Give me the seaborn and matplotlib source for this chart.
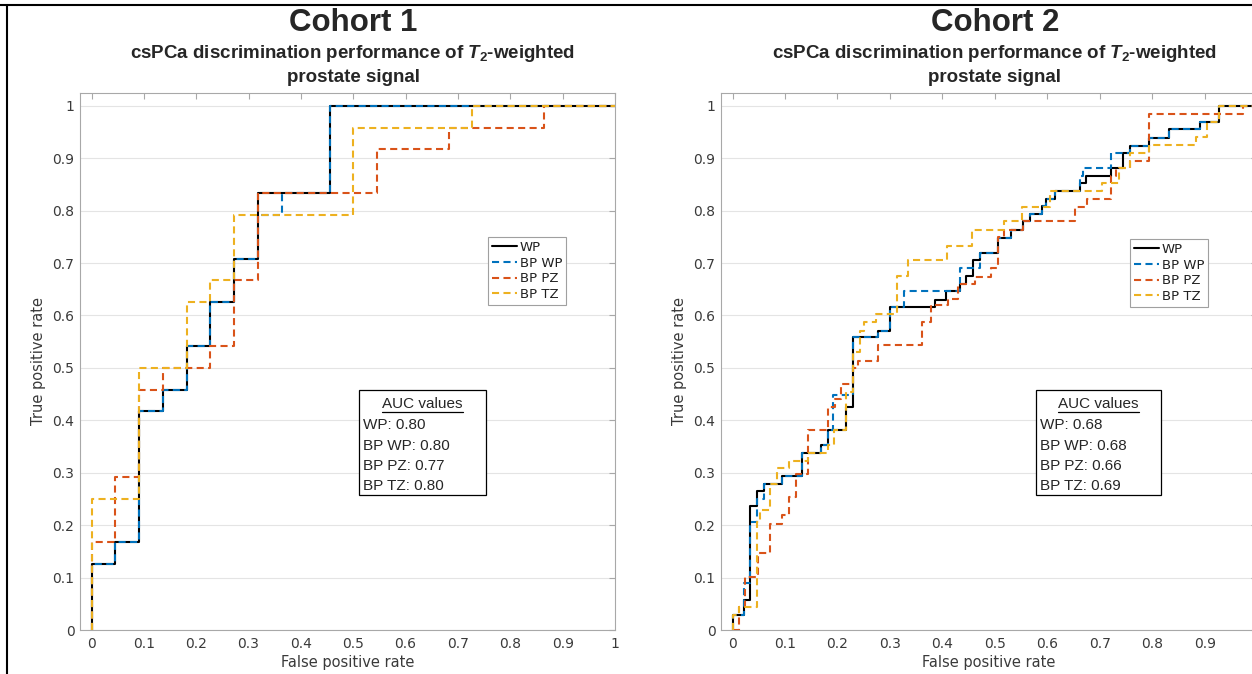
import matplotlib
matplotlib.use("Agg")
import matplotlib.pyplot as plt
from matplotlib.lines import Line2D
from matplotlib.patches import Rectangle
import seaborn as sns

# ---------------- data ----------------
series_names = ["WP", "BP WP", "BP PZ", "BP TZ"]
series_colors = ["#000000", "#0072BD", "#D95319", "#EDB120"]
cohort_titles = ["Cohort 1", "Cohort 2"]
subtitle_line1 = r"csPCa discrimination performance of $T_2$-weighted"
subtitle_line2 = "prostate signal"
auc_header = "AUC values"
auc_cohort1 = ["0.80", "0.80", "0.77", "0.80"]
auc_cohort2 = ["0.68", "0.68", "0.66", "0.69"]
tick_values = [0.0, 0.1, 0.2, 0.3, 0.4, 0.5, 0.6, 0.7, 0.8, 0.9, 1.0]
tick_labels = ["0", "0.1", "0.2", "0.3", "0.4", "0.5", "0.6", "0.7", "0.8", "0.9", "1"]
x_label = "False positive rate"
y_label = "True positive rate"

# Cohort 1 ROC curves (step vertices: FPR where the curve rises, TPR reached)
c1_wp_fpr = [0.0, 0.0, 0.045, 0.091, 0.136, 0.182, 0.227, 0.273, 0.318, 0.455, 1.0]
c1_wp_tpr = [0.0, 0.125, 0.167, 0.417, 0.458, 0.542, 0.625, 0.708, 0.833, 1.0, 1.0]
c1_bpwp_fpr = [0.0, 0.0, 0.045, 0.091, 0.136, 0.182, 0.227, 0.273, 0.318, 0.364, 0.455, 1.0]
c1_bpwp_tpr = [0.0, 0.125, 0.167, 0.417, 0.458, 0.542, 0.625, 0.708, 0.792, 0.833, 1.0, 1.0]
c1_bppz_fpr = [0.0, 0.0, 0.045, 0.091, 0.136, 0.227, 0.273, 0.318, 0.545, 0.682, 0.864, 1.0]
c1_bppz_tpr = [0.0, 0.167, 0.292, 0.458, 0.500, 0.542, 0.667, 0.833, 0.917, 0.958, 1.0, 1.0]
c1_bptz_fpr = [0.0, 0.0, 0.091, 0.182, 0.227, 0.273, 0.500, 0.727, 1.0]
c1_bptz_tpr = [0.0, 0.250, 0.500, 0.625, 0.667, 0.792, 0.958, 1.0, 1.0]

# Cohort 2 ROC curves
c2_wp_fpr = [0.0, 0.0, 0.022, 0.034, 0.047, 0.059, 0.095, 0.132, 0.169, 0.181,
             0.216, 0.229, 0.277, 0.300, 0.385, 0.407, 0.433, 0.445, 0.458, 0.471,
             0.506, 0.531, 0.553, 0.566, 0.589, 0.598, 0.614, 0.662, 0.674, 0.722,
             0.744, 0.757, 0.794, 0.832, 0.891, 0.927, 1.0]
c2_wp_tpr = [0.0, 0.029, 0.058, 0.236, 0.265, 0.279, 0.294, 0.338, 0.352, 0.382,
             0.425, 0.559, 0.571, 0.617, 0.630, 0.646, 0.660, 0.676, 0.705, 0.719,
             0.748, 0.763, 0.781, 0.794, 0.808, 0.822, 0.837, 0.852, 0.867, 0.882,
             0.910, 0.924, 0.939, 0.955, 0.970, 1.0, 1.0]
c2_bpwp_fpr = [0.0, 0.0, 0.022, 0.034, 0.047, 0.059, 0.095, 0.132, 0.169, 0.181,
               0.191, 0.229, 0.277, 0.300, 0.326, 0.433, 0.471, 0.506, 0.531, 0.553,
               0.566, 0.589, 0.598, 0.614, 0.662, 0.668, 0.722, 0.757, 0.794, 0.832,
               0.891, 0.927, 1.0]
c2_bpwp_tpr = [0.0, 0.029, 0.089, 0.206, 0.250, 0.279, 0.294, 0.338, 0.352, 0.382,
               0.448, 0.559, 0.571, 0.617, 0.646, 0.690, 0.719, 0.748, 0.763, 0.781,
               0.794, 0.808, 0.822, 0.837, 0.867, 0.882, 0.910, 0.924, 0.939, 0.955,
               0.970, 1.0, 1.0]
c2_bppz_fpr = [0.0, 0.013, 0.023, 0.048, 0.071, 0.095, 0.108, 0.121, 0.143, 0.181,
               0.196, 0.207, 0.229, 0.240, 0.277, 0.361, 0.378, 0.410, 0.430, 0.462,
               0.493, 0.506, 0.518, 0.553, 0.652, 0.676, 0.722, 0.730, 0.757, 0.794,
               0.972, 1.0]
c2_bppz_tpr = [0.0, 0.044, 0.101, 0.146, 0.203, 0.219, 0.254, 0.298, 0.382, 0.425,
               0.440, 0.470, 0.500, 0.514, 0.543, 0.587, 0.620, 0.632, 0.660, 0.674,
               0.690, 0.750, 0.763, 0.780, 0.806, 0.822, 0.867, 0.882, 0.895, 0.984,
               1.0, 1.0]
c2_bptz_fpr = [0.0, 0.0, 0.013, 0.047, 0.052, 0.071, 0.084, 0.107, 0.144, 0.181,
               0.193, 0.216, 0.229, 0.242, 0.250, 0.273, 0.314, 0.334, 0.408, 0.457,
               0.518, 0.551, 0.605, 0.705, 0.736, 0.757, 0.794, 0.884, 0.904, 0.927,
               1.0]
c2_bptz_tpr = [0.0, 0.029, 0.044, 0.206, 0.228, 0.279, 0.309, 0.322, 0.338, 0.352,
               0.381, 0.454, 0.530, 0.571, 0.587, 0.603, 0.676, 0.705, 0.733, 0.763,
               0.780, 0.806, 0.837, 0.852, 0.882, 0.910, 0.925, 0.940, 0.970, 1.0,
               1.0]

# ---------------- style ----------------
sns.set_theme(style="white")
plt.rcParams["font.family"] = ["DejaVu Sans"]
plt.rcParams["mathtext.fontset"] = "custom"
plt.rcParams["mathtext.it"] = "Liberation Sans:italic:bold"
plt.rcParams["mathtext.rm"] = "Liberation Sans:bold"
plt.rcParams["mathtext.bf"] = "Liberation Sans:bold"

W, H = 1252, 674
fig = plt.figure(figsize=(W / 100, H / 100), dpi=100)
fig.patch.set_facecolor("white")

def fx(px):
    return px / W

def fy(py):
    return 1 - py / H

spine_color = "#a8a8a8"
label_color = "#3a3a3a"

ax_left = fig.add_axes([fx(80), fy(630), fx(615) - fx(80), fy(92.7) - fy(630)])
ax_right = fig.add_axes([fx(721), fy(630), fx(1257.3) - fx(721), fy(92.7) - fy(630)])

cohorts = [
    (ax_left, [(c1_wp_fpr, c1_wp_tpr), (c1_bpwp_fpr, c1_bpwp_tpr),
               (c1_bppz_fpr, c1_bppz_tpr), (c1_bptz_fpr, c1_bptz_tpr)], auc_cohort1),
    (ax_right, [(c2_wp_fpr, c2_wp_tpr), (c2_bpwp_fpr, c2_bpwp_tpr),
                (c2_bppz_fpr, c2_bppz_tpr), (c2_bptz_fpr, c2_bptz_tpr)], auc_cohort2),
]

legend_anchor = [(488, 237), (1130, 239)]
auc_box = [(359, 390, 486, 495), (1036, 390, 1161, 495)]
title_cx = [353, 995]
# the right panel is cropped at the image edge, so its "1" label falls outside
n_xlabels = [len(tick_labels), len(tick_labels) - 1]

fig.canvas.draw()
renderer = fig.canvas.get_renderer()

for i, (ax, curves, aucs) in enumerate(cohorts):
    handles = []
    for j, (fpr, tpr) in enumerate(curves):
        n0 = len(ax.lines)
        sns.lineplot(x=fpr, y=tpr, ax=ax, estimator=None, sort=False,
                     color=series_colors[j], linewidth=1.5,
                     drawstyle="steps-post", legend=False)
        line = ax.lines[n0]
        if j > 0:
            line.set_dashes([3.4, 2.1])
        handles.append(line)

    ax.set_xlim(-0.022, 1.0)
    ax.set_ylim(0.0, 1.025)
    ax.set_xticks(tick_values[:n_xlabels[i]])
    ax.set_xticklabels(tick_labels[:n_xlabels[i]])
    ax.set_yticks(tick_values)
    ax.set_yticklabels(tick_labels)
    ax.tick_params(direction="in", length=4, width=0.8, color=spine_color,
                   labelcolor=label_color, labelsize=10, top=True, right=True,
                   labeltop=False, labelright=False, pad=5)
    ax.tick_params(axis="y", pad=4)
    ax.grid(axis="y", color="#e4e4e4", linewidth=0.8)
    ax.grid(axis="x", visible=False)
    ax.set_axisbelow(True)
    for s in ax.spines.values():
        s.set_color(spine_color)
        s.set_linewidth(0.8)
        s.set_visible(True)
    ax.set_xlabel(x_label, fontsize=10.5, color=label_color, labelpad=3)
    ax.set_ylabel(y_label, fontsize=10.5, color=label_color, labelpad=4.5)

    lx, ly = legend_anchor[i]
    leg = ax.legend(handles, series_names, loc="upper left",
                    bbox_to_anchor=(fx(lx), fy(ly)), bbox_transform=fig.transFigure,
                    fontsize=9.5, frameon=True, fancybox=False, edgecolor="#a0a0a0",
                    framealpha=1, borderpad=0.3, labelspacing=0.2, handlelength=1.9,
                    handletextpad=0.2, borderaxespad=0)
    leg.get_frame().set_linewidth(0.8)
    for t in leg.get_texts():
        t.set_color("#202020")

    # titles
    cx = title_cx[i]
    fig.text(fx(cx), fy(23), cohort_titles[i], ha="center", va="center",
             fontsize=22.5, fontweight="bold", family="Liberation Sans")
    fig.text(fx(cx), fy(53), subtitle_line1, ha="center", va="center",
             fontsize=13.5, fontweight="bold", family="Liberation Sans")
    fig.text(fx(cx), fy(77), subtitle_line2, ha="center", va="center",
             fontsize=13.5, fontweight="bold", family="Liberation Sans")

    # AUC box
    x0, y0, x1, y1 = auc_box[i]
    fig.add_artist(Rectangle((fx(x0), fy(y1)), fx(x1) - fx(x0), fy(y0) - fy(y1),
                             transform=fig.transFigure, facecolor="white",
                             edgecolor="#000000", linewidth=0.9, zorder=5))
    hdr = fig.text(fx((x0 + x1) / 2), fy(404), auc_header, ha="center", va="center",
                   fontsize=11, family="Liberation Sans", zorder=6)
    bb = hdr.get_window_extent(renderer)
    fig.add_artist(Line2D([bb.x0 / W, bb.x1 / W], [fy(412.5), fy(412.5)],
                          transform=fig.transFigure, color="black", linewidth=0.9,
                          zorder=6))
    rows_y = [425, 445.5, 466, 486.5]
    for k, name in enumerate(series_names):
        fig.text(fx(x0 + 4), fy(rows_y[k]), f"{name}: {aucs[k]}", ha="left",
                 va="center", fontsize=11, family="Liberation Sans", zorder=6)

# figure border lines seen in the reference
fig.add_artist(Line2D([0, 1], [fy(5), fy(5)], transform=fig.transFigure,
                      color="black", linewidth=1.5))
fig.add_artist(Line2D([fx(7), fx(7)], [fy(5), 0], transform=fig.transFigure,
                      color="black", linewidth=1.5))

fig.savefig("out.png", dpi=100, facecolor="white")
